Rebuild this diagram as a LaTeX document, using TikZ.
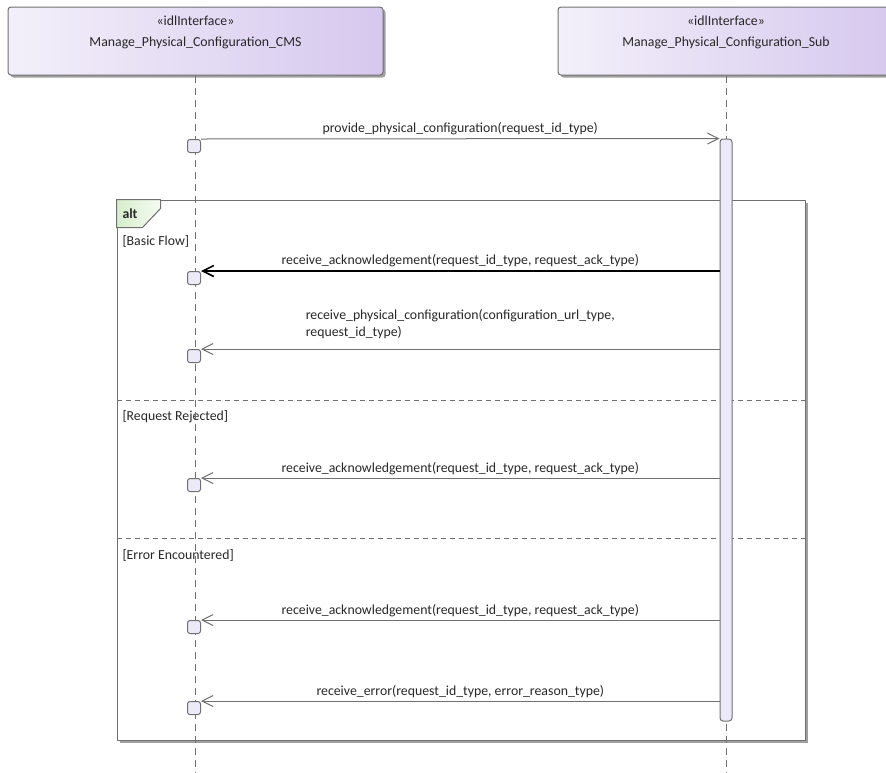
\documentclass[tikz,border=0pt]{standalone}
\usepackage{fontspec}
\setmainfont{Carlito}
\usetikzlibrary{arrows.meta,calc,positioning,shadows}
\definecolor{ifaceleft}{RGB}{243,240,250}
\definecolor{ifaceright}{RGB}{214,200,238}
\definecolor{actfill}{RGB}{236,233,249}
\definecolor{tabgreen}{RGB}{214,238,204}
\definecolor{linegray}{RGB}{112,112,112}
\definecolor{shadegray}{RGB}{160,160,160}
\definecolor{textgray}{RGB}{40,40,40}
\begin{document}
\begin{tikzpicture}[x=1pt,y=-1pt,>=Stealth,line cap=butt,line join=round,line width=1pt,
  font=\fontsize{13.8}{17}\selectfont,text=textgray,
  ifacebox/.style={draw=linegray,rounded corners=3pt,left color=ifaceleft,right color=ifaceright,
    minimum height=68pt,inner sep=0pt,drop shadow={shadow xshift=2.5pt,shadow yshift=-2.5pt,fill=shadegray,opacity=1}},
  lifeline/.style={draw=linegray,dash pattern=on 7pt off 5pt},
  actbar/.style={draw=linegray,fill=actfill,rounded corners=3pt,minimum width=12pt,inner sep=0pt},
  execbox/.style={draw=linegray,fill=actfill,rounded corners=2.5pt,minimum size=13pt,inner sep=0pt,anchor=north east},
  msg/.style={draw=linegray,-{Straight Barb[length=11pt,width=11pt]}},
  msglbl/.style={above,inner sep=3pt},
  guard/.style={anchor=west,inner sep=0pt}]
 \useasboundingbox (0,0) rectangle (886,772);
 % combined fragment
 \node[draw=linegray,fill=white,minimum width=688pt,minimum height=540pt,inner sep=0pt,
   drop shadow={shadow xshift=2.5pt,shadow yshift=-2.5pt,fill=shadegray,opacity=1}] (alt) at (461,470) {};
 \filldraw[draw=linegray,left color=tabgreen,right color=tabgreen!25!white]
  (alt.north west) -- ++(44,0) -- ++(0,9) -- ++(-18,19) -- ++(-26,0) -- cycle;
 \node[anchor=west,inner sep=0pt,font=\fontsize{13.8}{17}\selectfont\bfseries] (altname) at (122,214) {alt};
 \draw[linegray,dash pattern=on 5pt off 4pt] (alt.west |- 0,400) -- (alt.east |- 0,400);
 \draw[linegray,dash pattern=on 5pt off 4pt] (alt.west |- 0,538) -- (alt.east |- 0,538);
 \node[guard] (g1) at (122,241) {[Basic Flow]};
 \node[guard] (g2) at (122,417) {[Request Rejected]};
 \node[guard] (g3) at (122,555) {[Error Encountered]};
 % lifelines
 \node[ifacebox,minimum width=375pt] (cms) at (195.5,41) {};
 \node[ifacebox,minimum width=336pt] (sub) at (726,41) {};
 \node (cmsst) at ($(cms.north)+(0,14.5)$) {«idlInterface»};
 \node (cmsnm) at ($(cms.north)+(0,36.5)$) {Manage\_Physical\_Configuration\_CMS};
 \node (subst) at ($(sub.north)+(0,14.5)$) {«idlInterface»};
 \node (subnm) at ($(sub.north)+(0,36.5)$) {Manage\_Physical\_Configuration\_Sub};
 \coordinate (cmsend) at (cms.south |- 0,772);
 \coordinate (subend) at (sub.south |- 0,772);
 \draw[lifeline] (cms.south) -- (cmsend);
 \draw[lifeline] (sub.south) -- (subend);
 \node[actbar,minimum height=582pt] (act) at (726,430) {};
 % execution boxes
 \node[execbox] (e1) at (201,139) {};
 \node[execbox] (e2) at (201,271) {};
 \node[execbox] (e3) at (201,349) {};
 \node[execbox] (e4) at (201,478) {};
 \node[execbox] (e5) at (201,620) {};
 \node[execbox] (e6) at (201,701) {};
 % messages
 \draw[msg] (e1.north east) -- (act.north west)
  node[msglbl,midway] (m1) {provide\_physical\_configuration(request\_id\_type)};
 \draw[msg,draw=black,line width=1.6pt] (act.west |- e2.north) -- (e2.north east)
  node[msglbl,midway] (m2) {receive\_acknowledgement(request\_id\_type, request\_ack\_type)};
 \draw[msg] (act.west |- e3.north) -- (e3.north east)
  node[msglbl,midway,align=left,inner sep=9.5pt] (m3) {receive\_physical\_configuration(configuration\_url\_type,\\request\_id\_type)};
 \draw[msg] (act.west |- e4.north) -- (e4.north east)
  node[msglbl,midway] (m4) {receive\_acknowledgement(request\_id\_type, request\_ack\_type)};
 \draw[msg] (act.west |- e5.north) -- (e5.north east)
  node[msglbl,midway] (m5) {receive\_acknowledgement(request\_id\_type, request\_ack\_type)};
 \draw[msg] (act.west |- e6.north) -- (e6.north east)
  node[msglbl,midway] (m6) {receive\_error(request\_id\_type, error\_reason\_type)};
\end{tikzpicture}
\end{document}
